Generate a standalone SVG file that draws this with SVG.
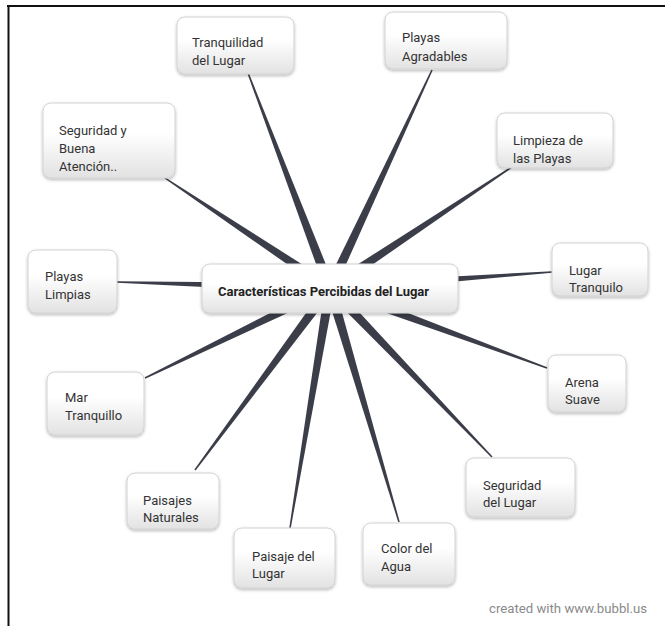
<svg xmlns="http://www.w3.org/2000/svg" width="665" height="626" viewBox="0 0 665 626">
<defs>
<linearGradient id="bg" x1="0" y1="0" x2="0" y2="1">
<stop offset="0" stop-color="#ffffff"/>
<stop offset="0.4" stop-color="#ffffff"/>
<stop offset="1" stop-color="#e2e2e2"/>
</linearGradient>
<filter id="sh" x="-20%" y="-20%" width="140%" height="150%">
<feDropShadow dx="0" dy="1.5" stdDeviation="1.8" flood-color="#000" flood-opacity="0.28"/>
</filter>
<style>
.box{fill:url(#bg);stroke:#d2d2d2;stroke-width:1;filter:url(#sh)}
.t{font-family:Roboto,"Liberation Sans",sans-serif;font-size:13px;fill:#333}
.tb{font-family:Roboto,"Liberation Sans",sans-serif;font-size:13px;font-weight:bold;fill:#222}
.c{fill:#3b3e49}
</style>
</defs>
<rect width="665" height="626" fill="#fff"/>
<rect x="7" y="5" width="658" height="2" fill="#111"/>
<rect x="7.5" y="5" width="2" height="621" fill="#111"/>
<g id="connectors">
<polygon class="c" points="334.67,286.22 248.70,72.73 247.30,73.27 325.33,289.78"/>
<polygon class="c" points="334.53,290.12 432.68,70.32 431.32,69.68 325.47,285.88"/>
<polygon class="c" points="332.77,292.16 515.42,165.62 514.58,164.38 327.23,283.84"/>
<polygon class="c" points="330.36,292.99 552.05,272.75 551.95,271.25 329.64,283.01"/>
<polygon class="c" points="328.27,292.69 546.74,368.70 547.26,367.30 331.73,283.31"/>
<polygon class="c" points="326.39,291.46 491.46,457.52 492.54,456.48 333.61,284.54"/>
<polygon class="c" points="325.20,289.41 398.28,522.21 399.72,521.79 334.80,286.59"/>
<polygon class="c" points="325.07,287.18 289.26,527.88 290.74,528.12 334.93,288.82"/>
<polygon class="c" points="325.98,285.02 194.40,469.55 195.60,470.45 334.02,290.98"/>
<polygon class="c" points="327.81,283.50 144.67,377.33 145.33,378.67 332.19,292.50"/>
<polygon class="c" points="330.14,283.00 117.02,281.25 116.98,282.75 329.86,293.00"/>
<polygon class="c" points="332.77,283.84 165.42,177.38 164.58,178.62 327.23,292.16"/>
</g>
<g id="central">
<rect class="box" x="202" y="264" width="256" height="49" rx="8"/>
<text class="tb" x="218" y="296">Características Percibidas del Lugar</text>
</g>
<g id="tranquilidad">
<rect class="box" x="177" y="17" width="117" height="57" rx="8"/>
<text class="t" x="192" y="47">Tranquilidad</text>
<text class="t" x="192" y="65">del Lugar</text>
</g>
<g id="playas-agradables">
<rect class="box" x="385" y="12" width="122" height="57" rx="8"/>
<text class="t" x="402" y="42">Playas</text>
<text class="t" x="402" y="61">Agradables</text>
</g>
<g id="seguridad-atencion">
<rect class="box" x="43" y="103" width="132" height="75" rx="8"/>
<text class="t" x="59" y="135">Seguridad y</text>
<text class="t" x="59" y="153">Buena</text>
<text class="t" x="59" y="171">Atención..</text>
</g>
<g id="limpieza">
<rect class="box" x="497" y="113" width="116" height="55" rx="8"/>
<text class="t" x="513" y="145">Limpieza de</text>
<text class="t" x="513" y="163">las Playas</text>
</g>
<g id="playas-limpias">
<rect class="box" x="28" y="250" width="89" height="63" rx="8"/>
<text class="t" x="45" y="281">Playas</text>
<text class="t" x="45" y="299">Limpias</text>
</g>
<g id="lugar-tranquilo">
<rect class="box" x="552" y="243" width="96" height="53" rx="8"/>
<text class="t" x="569" y="275">Lugar</text>
<text class="t" x="569" y="292">Tranquilo</text>
</g>
<g id="mar-tranquillo">
<rect class="box" x="47" y="372" width="97" height="63" rx="8"/>
<text class="t" x="65" y="402">Mar</text>
<text class="t" x="65" y="420">Tranquillo</text>
</g>
<g id="arena-suave">
<rect class="box" x="548" y="355" width="78" height="57" rx="8"/>
<text class="t" x="565" y="387">Arena</text>
<text class="t" x="565" y="404">Suave</text>
</g>
<g id="seguridad-lugar">
<rect class="box" x="466" y="458" width="109" height="59" rx="8"/>
<text class="t" x="483" y="490">Seguridad</text>
<text class="t" x="483" y="507">del Lugar</text>
</g>
<g id="paisajes-naturales">
<rect class="box" x="127" y="473" width="92" height="56" rx="8"/>
<text class="t" x="143" y="505">Paisajes</text>
<text class="t" x="143" y="522">Naturales</text>
</g>
<g id="paisaje-lugar">
<rect class="box" x="234" y="528" width="101" height="60" rx="8"/>
<text class="t" x="252" y="561">Paisaje del</text>
<text class="t" x="252" y="578">Lugar</text>
</g>
<g id="color-agua">
<rect class="box" x="363" y="523" width="92" height="62" rx="8"/>
<text class="t" x="381" y="553">Color del</text>
<text class="t" x="381" y="571">Agua</text>
</g>
<text x="489" y="613" font-family="Roboto,'Liberation Sans',sans-serif" font-size="13.2" fill="#8a8a8a">created with www.bubbl.us</text>
</svg>
